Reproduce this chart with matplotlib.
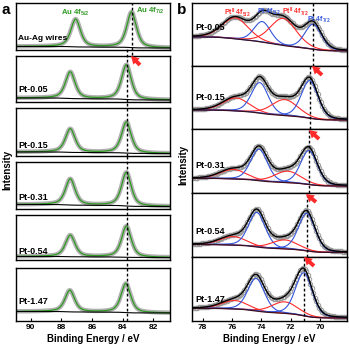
import numpy as np
import matplotlib
matplotlib.use('Agg')
from matplotlib import pyplot as plt

plt.rcParams['font.family'] = ['Liberation Sans', 'DejaVu Sans']
plt.rcParams['font.weight'] = 'bold'
plt.rcParams['mathtext.default'] = 'regular'

# ---- panel a : Au 4f ----
a_names = ['Au-Ag wires', 'Pt-0.05', 'Pt-0.15', 'Pt-0.31', 'Pt-0.54', 'Pt-1.47']
a_pos52 = [87.07, 87.42, 87.42, 87.42, 87.42, 87.45]
a_pos72 = [83.41, 83.75, 83.75, 83.75, 83.75, 83.78]
a_amp52 = [27.5, 26.5, 23.5, 26.0, 21.5, 21.5]
a_amp72 = [35.5, 34.5, 31.0, 33.5, 31.0, 29.0]
a_bg_left = [3.0, 4.0, 3.5, 4.0, 3.5, 9.5]
a_bg_right = [1.5, 2.0, 2.0, 2.0, 2.5, 8.0]
a_label_y = [11.5, 12, 10.5, 10.5, 8.5, 19]
a_lines = [83.41, 83.72]
a_ticks = [90, 88, 86, 84, 82]

# ---- panel b : Pt 4f ----
b_names = ['Pt-0.05', 'Pt-0.15', 'Pt-0.31', 'Pt-0.54', 'Pt-1.47']
b_pos_pt52 = [73.93, 74.10, 74.15, 74.30, 74.35]
b_pos_pt72 = [70.46, 70.70, 70.75, 70.90, 71.10]
b_pos_ox52 = [75.77, 75.70, 75.90, 75.90, 75.80]
b_pos_ox72 = [72.50, 72.40, 72.20, 72.40, 72.40]
b_amp_pt52 = [20.5, 30.5, 31.5, 34.5, 32.5]
b_amp_pt72 = [25.0, 37.5, 34.0, 37.5, 43.0]
b_amp_ox52 = [21.0, 13.0, 9.5, 8.5, 8.5]
b_amp_ox72 = [27.0, 16.0, 11.5, 9.0, 11.5]
b_bg_left = [28.6, 19.0, 14.2, 12.0, 12.7]
b_bg_right = [14.6, 9.0, 6.5, 4.0, 3.0]
b_label_y = [0.6, 0.49, 0.43, 0.39, 0.33]
b_lines = [70.46, 70.70, 70.75, 70.90, 71.10]
b_ticks = [78, 76, 74, 72, 70]

W = 349.0
green = '#2f9a22'
red = '#ff2a2a'
blue = '#3355dd'


def pv(x, c, fwhm, eta):
    s = fwhm / 2.3548
    g = np.exp(-0.5 * ((x - c) / s) ** 2)
    l = 1.0 / (1.0 + ((x - c) / (fwhm / 2)) ** 2)
    return eta * l + (1 - eta) * g


def shirley(x, peaks, left, right):
    # x ascending, left = high binding energy side
    cum = np.cumsum(peaks)
    cum = cum / cum[-1]
    return right + (left - right) * cum


def box(fig, x0, x1, top, bot):
    return fig.add_axes([x0 / W, 1 - bot / W, (x1 - x0) / W, (bot - top) / W])


def bottom_axis(ax, ticks):
    ax.set_xticks(ticks)
    ax.tick_params(axis='x', direction='in', length=2.5, width=0.8, labelsize=6, pad=2)
    for t in ax.get_xticklabels():
        t.set_fontweight('bold')
    ax.set_xlabel('Binding Energy / eV', fontsize=7, fontweight='bold', labelpad=2)


fig = plt.figure(figsize=(3.49, 3.49), dpi=100)

# panel a boxes (pixel rows)
a_tops = [3, 55.5, 108.5, 162, 215, 268]
a_bots = [49.5, 102, 155.5, 208.5, 260, 321]
xa = np.arange(80.8, 91.05, 0.02)
for i in range(6):
    ax = box(fig, 16, 170, a_tops[i], a_bots[i])
    h = a_bots[i] - a_tops[i]
    p = a_amp52[i] * pv(xa, a_pos52[i], 0.75, 0.6) + a_amp72[i] * pv(xa, a_pos72[i], 0.75, 0.6)
    bg = shirley(xa, p, a_bg_left[i], a_bg_right[i])
    ax.plot(xa, bg + p, color='#b0b0b0', lw=3.2, solid_capstyle='round')
    ax.plot(xa, bg + p, color=green, lw=0.9)
    ax.plot(xa, bg, color='black', lw=0.8)
    ax.set_xlim(90.97, 80.9)
    ax.set_ylim(0, h)
    ax.set_yticks([])
    if i == 0:
        ax.axvline(a_lines[0], ymin=-0.12, ymax=1, color='black', ls=(0, (2, 1.6)), lw=1.0, clip_on=False)
    else:
        ax.axvline(a_lines[1], ymin=0, ymax=1 + 6.5 / h, color='black', ls=(0, (2, 1.6)), lw=1.0, clip_on=False)
    ax.text(0.015, a_label_y[i] / h, a_names[i], transform=ax.transAxes,
            fontsize=6 if i == 0 else 6.5, fontweight='bold', va='center', ha='left')
    for s in ax.spines.values():
        s.set_linewidth(1.0)
    if i < 5:
        ax.set_xticks([])
    else:
        bottom_axis(ax, a_ticks)
    if i == 0:
        tr = ax.get_xaxis_transform()
        ax.text(87.07, 1 - 10 / h, 'Au 4f$_{5/2}$', transform=tr, color=green,
                fontsize=5.5, fontweight='bold', ha='center', va='center')
        ax.text(82.2, 1 - 8 / h, 'Au 4f$_{7/2}$', transform=tr, color=green,
                fontsize=5.5, fontweight='bold', ha='center', va='center')

# panel b boxes
b_edges = [3, 65.5, 129, 192.5, 256.5, 321]
xb = np.arange(68.1, 78.75, 0.02)
xd = np.arange(68.15, 78.75, 0.1)
for i in range(5):
    top, bot = b_edges[i], b_edges[i + 1]
    h = bot - top
    ax = box(fig, 192.3, 347, top, bot)
    comps = [
        (b_amp_ox52[i] * pv(xb, b_pos_ox52[i], 2.1, 0.2), red),
        (b_amp_pt52[i] * pv(xb, b_pos_pt52[i], 1.35, 0.25), blue),
        (b_amp_ox72[i] * pv(xb, b_pos_ox72[i], 2.1, 0.2), red),
        (b_amp_pt72[i] * pv(xb, b_pos_pt72[i], 1.35, 0.25), blue),
    ]
    p = sum(c for c, _ in comps)
    bg = shirley(xb, p, b_bg_left[i], b_bg_right[i])
    env = bg + p
    ax.plot(xd, np.interp(xd, xb, env), 'o', ms=3.2, mfc='none', mec='#9a9a9a', mew=0.7)
    for c, col in comps:
        ax.plot(xb, bg + c, color=col, lw=0.8)
    ax.plot(xb, bg, color='#3a1020', lw=0.9)
    ax.plot(xb, env, color='black', lw=1.0)
    ax.set_xlim(78.7, 68.16)
    ax.set_ylim(0, h)
    ax.set_yticks([])
    ax.axvline(b_lines[i], color='black', ls=(0, (2, 1.6)), lw=1.0)
    ax.text(0.02, b_label_y[i], b_names[i], transform=ax.transAxes,
            fontsize=6.5, fontweight='bold', va='center', ha='left')
    for s in ax.spines.values():
        s.set_linewidth(1.0)
    if i < 4:
        ax.set_xticks([])
    else:
        bottom_axis(ax, b_ticks)
    if i == 0:
        tr = ax.get_xaxis_transform()
        ax.text(75.6, 1 - 10 / h, 'Pt$^{II}$ 4f$_{5/2}$', transform=tr, color=red,
                fontsize=5, fontweight='bold', ha='center', va='center')
        ax.text(73.45, 1 - 9 / h, 'Pt 4f$_{5/2}$', transform=tr, color=blue,
                fontsize=5, fontweight='bold', ha='center', va='center')
        ax.text(71.65, 1 - 9 / h, 'Pt$^{II}$ 4f$_{7/2}$', transform=tr, color=red,
                fontsize=5, fontweight='bold', ha='center', va='center')
        ax.text(70.1, 1 - 17 / h, 'Pt 4f$_{7/2}$', transform=tr, color=blue,
                fontsize=5, fontweight='bold', ha='center', va='center')

# red arrows (pixel positions of head / tail)
arrows = [((131, 56), (140, 65)), ((312, 66), (322, 75)), ((309, 130), (319, 139)),
          ((306, 194), (316, 202)), ((304, 257), (314, 266))]
for (hx, hy), (tx, ty) in arrows:
    fig.add_artist(matplotlib.patches.FancyArrowPatch(
        (tx / W, 1 - ty / W), (hx / W, 1 - hy / W), transform=fig.transFigure,
        arrowstyle='simple,head_length=0.7,head_width=0.8,tail_width=0.35',
        mutation_scale=8, color=red, lw=0, shrinkA=0, shrinkB=0))

fig.text(7 / W, 1 - 170 / W, 'Intensity', rotation=90, fontsize=7, fontweight='bold', ha='center', va='center')
fig.text(183 / W, 1 - 165 / W, 'Intensity', rotation=90, fontsize=7, fontweight='bold', ha='center', va='center')
fig.text(2 / W, 1 - 10 / W, 'a', fontsize=11, fontweight='bold', ha='left', va='center')
fig.text(177 / W, 1 - 10 / W, 'b', fontsize=11, fontweight='bold', ha='left', va='center')

fig.savefig('out.png', dpi=100)
